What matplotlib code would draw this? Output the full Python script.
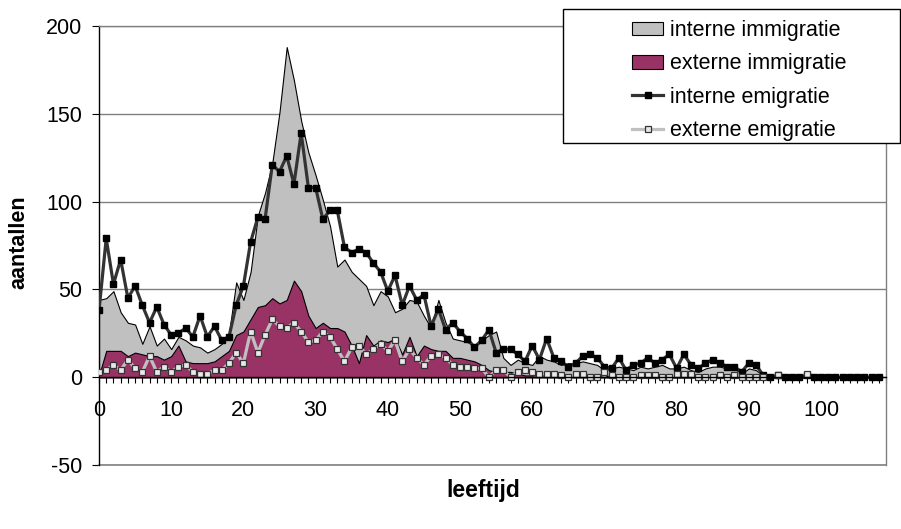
import numpy as np
import matplotlib
matplotlib.use('Agg')
import matplotlib.pyplot as plt
from matplotlib.patches import Patch, Rectangle
from matplotlib.lines import Line2D
from matplotlib.ticker import MultipleLocator, FixedLocator

ages = list(range(0, 109))

interne_immigratie = [
    44, 45, 49, 37, 31, 30, 19, 29, 18, 22,
    16, 23, 21, 18, 17, 14, 16, 19, 25, 54,
    44, 60, 92, 105, 122, 151, 188, 169, 146, 128,
    115, 101, 86, 63, 67, 60, 56, 52, 41, 49,
    46, 37, 39, 44, 43, 35, 28, 44, 31, 22,
    21, 20, 18, 21, 24, 26, 11, 7, 10, 8,
    7, 12, 10, 9, 7, 8, 8, 9, 8, 7,
    4, 5, 6, 5, 4, 6, 5, 6, 7, 5,
    5, 6, 4, 3, 5, 6, 6, 5, 5, 2,
    5, 4, 1, 0, 0, 0, 0, 0, 0, 0,
    0, 0, 0, 0, 0, 0, 0, 0, 0]

externe_immigratie = [
    1, 15, 15, 15, 12, 14, 13, 12, 12, 10,
    12, 18, 9, 8, 8, 8, 9, 12, 15, 24,
    26, 33, 40, 41, 45, 42, 44, 55, 49, 35,
    28, 31, 28, 28, 26, 18, 8, 24, 18, 21,
    20, 22, 13, 23, 12, 18, 16, 15, 15, 11,
    11, 10, 9, 7, 4, 3, 3, 3, 2, 1,
    1, 2, 3, 3, 1, 1, 1, 2, 1, 1,
    0, 2, 1, 0, 0, 0, 0, 0, 0, 0,
    0, 0, 0, 0, 0, 0, 0, 0, 0, 0,
    0, 0, 0, 0, 0, 0, 0, 0, 0, 0,
    0, 0, 0, 0, 0, 0, 0, 0, 0]

interne_emigratie = [
    38, 79, 53, 67, 45, 52, 41, 31, 40, 30,
    24, 25, 28, 23, 35, 23, 29, 21, 23, 41,
    52, 77, 91, 90, 121, 117, 126, 110, 139, 108,
    108, 90, 95, 95, 74, 71, 73, 71, 65, 60,
    49, 58, 41, 52, 44, 47, 29, 39, 27, 31,
    26, 22, 17, 21, 27, 14, 16, 16, 13, 9,
    18, 10, 22, 11, 9, 6, 8, 12, 13, 11,
    6, 5, 11, 4, 7, 8, 11, 8, 10, 13,
    5, 13, 7, 5, 8, 10, 8, 6, 6, 3,
    8, 7, 1, 0, 1, 0, 0, 0, 1, 0,
    0, 0, 0, 0, 0, 0, 0, 0, 0]

nan = float('nan')
externe_emigratie = [
    3, 4, 7, 4, 10, 5, 3, 12, 3, 6,
    3, 6, 7, 3, 2, 2, 4, 4, 8, 14,
    8, 26, 14, 24, 33, 29, 28, 31, 26, 20,
    21, 26, 23, 16, 9, 17, 18, 13, 16, 19,
    15, 21, 9, 16, 11, 7, 12, 13, 11, 7,
    6, 6, 5, 5, 0, 4, 4, 0, 3, 4,
    3, 2, 2, 2, 1, 0, 2, 2, 0, 0,
    3, 1, 0, 0, 0, 1, 1, 1, 0, 0,
    2, 2, 2, 0, 0, 0, 1, 0, 1, 0,
    0, 0, 0, nan, 1, nan, nan, nan, 2, nan,
    nan, nan, nan, nan, nan, nan, nan, nan, nan]

series_names = ['interne immigratie', 'externe immigratie',
                'interne emigratie', 'externe emigratie']
x_tick_labels = ['0', '10', '20', '30', '40', '50', '60', '70', '80', '90', '100']
y_ticks = [-50, 0, 50, 100, 150, 200]

plt.rcParams['font.family'] = ['Liberation Sans', 'DejaVu Sans']

W, H = 901, 529
fig = plt.figure(figsize=(W / 100, H / 100), dpi=100)

def fx(px):
    return px / W

def fy(py):
    return 1 - py / H

ax = fig.add_axes([fx(99), fy(465), fx(886) - fx(99), fy(26) - fy(465)])

GRAY_AREA = '#C0C0C0'
MAGENTA = '#993366'
GRID = '#808080'

ax.fill_between(ages, 0, interne_immigratie, facecolor=GRAY_AREA,
                edgecolor='black', linewidth=0.8, zorder=2)
ax.fill_between(ages, 0, externe_immigratie, facecolor=MAGENTA,
                edgecolor='black', linewidth=0.8, zorder=3)
ax.plot(ages, interne_emigratie, color='#333333', lw=2.3, marker='s',
        markersize=4.3, markerfacecolor='black', markeredgecolor='black',
        zorder=4)
ax.plot(ages, externe_emigratie, color='#C0C0C0', lw=2.3, marker='s',
        markersize=4.8, markerfacecolor='#E8E8E8', markeredgecolor='#333333',
        markeredgewidth=0.9, zorder=5)

ax.set_xlim(0, 109)
ax.set_ylim(-50, 200)
ax.set_yticks(y_ticks)
ax.set_yticklabels([str(v) for v in y_ticks])
ax.set_xticks(list(range(0, 101, 10)))
ax.set_xticklabels(x_tick_labels)
ax.xaxis.set_minor_locator(FixedLocator(list(range(0, 110))))

ax.yaxis.grid(True, color=GRID, lw=1.0, zorder=0)
ax.set_axisbelow(True)

for s in ['top', 'right']:
    ax.spines[s].set_color(GRID)
    ax.spines[s].set_linewidth(1.0)
ax.spines['left'].set_color('black')
ax.spines['left'].set_linewidth(1.0)
ax.spines['bottom'].set_position(('data', 0))
ax.spines['bottom'].set_color('black')
ax.spines['bottom'].set_linewidth(1.0)
ax.spines['bottom'].set_zorder(6)
ax.axhline(-50, color=GRID, lw=1.2, zorder=1, clip_on=False)

ax.tick_params(axis='x', which='both', direction='out', length=4.5,
               width=0.8, color='black', labelsize=15.5, pad=12)
ax.tick_params(axis='y', which='major', direction='out', length=5,
               width=0.8, color='black', labelsize=15.5, pad=7)

fig.text(fx(19), fy(242), 'aantallen', rotation=90, fontsize=15.5,
         fontweight='bold', ha='center', va='center')
fig.text(fx(483), fy(491), 'leeftijd', fontsize=16.5, fontweight='bold',
         ha='center', va='center')

# legend
handles = [
    Patch(facecolor=GRAY_AREA, edgecolor='black', linewidth=0.8),
    Patch(facecolor=MAGENTA, edgecolor='black', linewidth=0.8),
    Line2D([], [], color='#333333', lw=2.3, marker='s', markersize=4,
           markerfacecolor='black', markeredgecolor='black'),
    Line2D([], [], color='#C0C0C0', lw=2.3, marker='s', markersize=4.6,
           markerfacecolor='#E8E8E8', markeredgecolor='#333333',
           markeredgewidth=0.9),
]
leg = fig.legend(handles, series_names, loc='upper left',
                 bbox_to_anchor=(fx(632), fy(20)), frameon=False,
                 fontsize=15.5, handlelength=1.45, handleheight=0.6,
                 handletextpad=0.3, labelspacing=0.57, borderpad=0,
                 borderaxespad=0)
fig.patches.append(Rectangle((fx(563), fy(143)), fx(900) - fx(563),
                             fy(9) - fy(143), transform=fig.transFigure,
                             facecolor='white', edgecolor='black', lw=1.0,
                             zorder=0))

fig.savefig('out.png', dpi=100)
